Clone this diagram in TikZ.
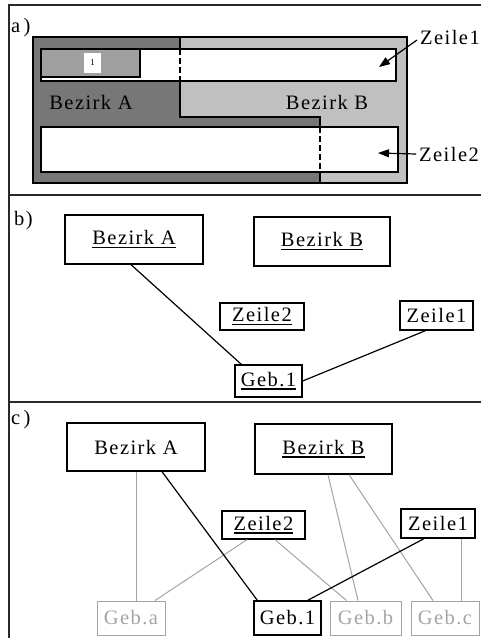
\documentclass[tikz,border=0pt]{standalone}
\usepackage{fontspec}
\setmainfont[LetterSpace=7]{Liberation Serif}
\usetikzlibrary{arrows.meta,calc}

\definecolor{frameline}{HTML}{2A2A2A}
\definecolor{districtA}{HTML}{777777}
\definecolor{districtB}{HTML}{C0C0C0}
\definecolor{plotfill}{HTML}{A0A0A0}
\definecolor{faint}{HTML}{A4A4A4}

% thick underline under a word
\newsavebox{\ulbox}
\newcommand{\thul}[1]{\sbox{\ulbox}{#1}\rlap{\usebox{\ulbox}}\rule[-3.6pt]{\wd\ulbox}{1.5pt}}

\begin{document}
\begin{tikzpicture}[x=1pt,y=-1pt,
  txt/.style={font=\fontsize{20.5}{24}\selectfont, inner sep=0pt, text=black},
  box/.style={txt, draw=black, line width=1.3pt, anchor=center},
  fbox/.style={txt, draw=faint, text=faint, line width=1pt, anchor=center},
  link/.style={line width=1.2pt, black},
  flink/.style={line width=1pt, faint},
  pointer/.style={line width=1.2pt, -{Triangle[length=11pt,width=8pt]}},
  rule/.style={line width=1.5pt, frameline}]
\useasboundingbox (0,0) rectangle (481,638);

% panel frame and separators
\draw[rule] (9,638) -- (9,5) -- (481,5);
\draw[rule] (9,195) -- (481,195);
\draw[rule] (9,402) -- (481,402);

\node[txt, anchor=base west] (la) at (11,32) {a\,)};
\node[txt, anchor=base west] (lb) at (14,225) {b)};
\node[txt, anchor=base west] (lc) at (11,424) {c\,)};

% ---------- a) map of the two districts ----------
\fill[districtB] (33,37) rectangle (407,183);
\fill[districtA] (33,37) -- (180,37) -- (180,117) -- (320,117) -- (320,183) -- (33,183) -- cycle;
\draw[line width=1.3pt] (33,37) rectangle (407,183);
\draw[line width=1.3pt] (180,37) -- (180,117) -- (320,117) -- (320,183);

% row 1 with building 1
\draw[line width=1.3pt, fill=white] (41,49) rectangle (396,81);
\draw[line width=1.3pt, fill=plotfill] (41,49) rectangle (140,77);
\node[fill=white, minimum width=17pt, minimum height=20pt, inner sep=0pt,
      font=\fontsize{9}{10}\selectfont] (one) at (92.5,63) {1};
\draw[line width=1.3pt, dash pattern=on 6pt off 3pt] (180,49) -- (180,81);

% row 2
\draw[line width=1.3pt, fill=white] (41,127) rectangle (398,172);
\draw[line width=1.3pt, dash pattern=on 6pt off 3pt] (320,127) -- (320,172);

\node[txt] (da) at (91,102) {Bezirk A};
\node[txt] (db) at (327,102) {Bezirk B};

\node[txt] (z1lbl) at (450,37) {Zeile1};
\node[txt] (z2lbl) at (449,154) {Zeile2};
\coordinate (z1tip) at (379,67);
\coordinate (z2tip) at (378,153);
\draw[pointer] ([shift={(-3pt,-3pt)}]z1lbl.west) -- (z1tip);
\draw[pointer] ([xshift=-3pt]z2lbl.west) -- (z2tip);

% ---------- b) ----------
\node[box, minimum width=138pt, minimum height=49pt] (bA) at (134,239.5) {\thul{Bezirk A}};
\node[box, minimum width=136pt, minimum height=49pt] (bB) at (322,241.5) {\thul{Bezirk B}};
\node[box, minimum width=84pt, minimum height=27pt] (bZ2) at (262,316.5) {\thul{Zeile2}};
\node[box, minimum width=73pt, minimum height=29pt] (bZ1) at (436.5,315.5) {Zeile1};
\node[box, minimum width=67pt, minimum height=32pt] (bG1) at (268.5,381) {\thul{Geb.1}};

\draw[link] ([xshift=-3pt]bA.south) -- ([xshift=7pt]bG1.north west);
\draw[link] ([xshift=-11pt]bZ1.south) -- (bG1.east);

% ---------- c) ----------
\node[box, minimum width=138pt, minimum height=48pt] (cA) at (136,447) {Bezirk A};
\node[box, minimum width=137pt, minimum height=50pt] (cB) at (323.5,449) {\thul{Bezirk B}};
\node[box, minimum width=83pt, minimum height=28pt] (cZ2) at (263.5,525) {\thul{Zeile2}};
\node[box, minimum width=74pt, minimum height=29pt] (cZ1) at (438,523.5) {Zeile1};
\node[fbox, minimum width=68pt, minimum height=34pt] (cGa) at (131,618) {Geb.a};
\node[box, minimum width=67pt, minimum height=34pt] (cG1) at (287.5,618) {Geb.1};
\node[fbox, minimum width=71pt, minimum height=34pt] (cGb) at (365.5,618) {Geb.b};
\node[fbox, minimum width=68pt, minimum height=34pt] (cGc) at (445,618) {Geb.c};

\draw[flink] (cA.south) -- (cA.south |- cGa.north);
\draw[flink] ([xshift=-16.5pt]cZ2.south) -- ([xshift=24pt]cGa.north);
\draw[flink] ([xshift=11.5pt]cZ2.south) -- ([xshift=17pt]cGb.north west);
\draw[flink] ([xshift=4.5pt]cB.south) -- ([xshift=-7.5pt]cGb.north);
\draw[flink] ([xshift=25.5pt]cB.south) -- ([xshift=-12pt]cGc.north);
\draw[flink] ([xshift=23pt]cZ1.south) -- ([xshift=23pt]cZ1.south |- cGc.north);
\draw[link] ([xshift=26pt]cA.south) -- ([xshift=4pt]cG1.north west);
\draw[link] ([xshift=-14pt]cZ1.south) -- ([xshift=-14pt]cG1.north east);
\end{tikzpicture}
\end{document}
